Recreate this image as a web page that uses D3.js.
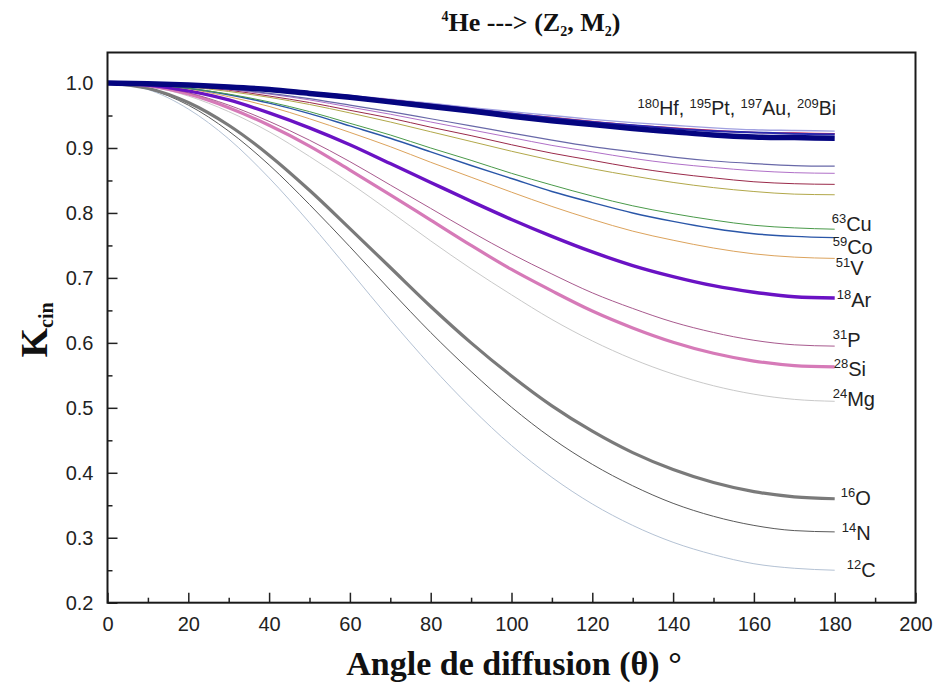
<!DOCTYPE html>
<html>
<head>
<meta charset="utf-8">
<script src="https://cdn.jsdelivr.net/npm/d3@7/dist/d3.min.js"></script>
<style>
  html, body { margin: 0; padding: 0; background: #fff; }
  svg { display: block; }
</style>
</head>
<body>
<svg id="chart" width="936" height="683"></svg>
<script>
// ---------------- DATA ----------------
const angles = [0, 10, 20, 30, 40, 50, 60, 70, 80, 90, 100, 110, 120, 130, 140, 150, 160, 170, 180];

const kC   = [1, 0.990, 0.960, 0.914, 0.854, 0.785, 0.711, 0.636, 0.565, 0.500, 0.442, 0.393, 0.352, 0.319, 0.293, 0.274, 0.260, 0.253, 0.250];
const kN   = [1, 0.991, 0.966, 0.926, 0.874, 0.813, 0.748, 0.681, 0.616, 0.556, 0.501, 0.453, 0.413, 0.380, 0.353, 0.333, 0.319, 0.311, 0.309];
const kO   = [1, 0.992, 0.970, 0.935, 0.889, 0.835, 0.776, 0.716, 0.656, 0.600, 0.549, 0.503, 0.464, 0.431, 0.405, 0.385, 0.371, 0.363, 0.360];
const kMg  = [1, 0.995, 0.980, 0.956, 0.925, 0.887, 0.846, 0.802, 0.757, 0.714, 0.674, 0.636, 0.603, 0.575, 0.552, 0.534, 0.521, 0.513, 0.510];
const kSi  = [1, 0.996, 0.983, 0.962, 0.935, 0.903, 0.866, 0.828, 0.789, 0.750, 0.713, 0.680, 0.649, 0.623, 0.601, 0.584, 0.572, 0.565, 0.563];
const kP   = [1, 0.996, 0.985, 0.966, 0.941, 0.912, 0.879, 0.843, 0.807, 0.771, 0.737, 0.706, 0.677, 0.653, 0.632, 0.616, 0.604, 0.597, 0.595];
const kAr  = [1, 0.997, 0.988, 0.974, 0.954, 0.931, 0.905, 0.876, 0.847, 0.818, 0.790, 0.764, 0.740, 0.719, 0.702, 0.688, 0.678, 0.671, 0.669];
const kV   = [1, 0.998, 0.991, 0.979, 0.964, 0.945, 0.924, 0.902, 0.878, 0.855, 0.832, 0.810, 0.790, 0.772, 0.758, 0.746, 0.737, 0.732, 0.730];
const kCo  = [1, 0.998, 0.992, 0.982, 0.969, 0.953, 0.934, 0.915, 0.894, 0.873, 0.853, 0.833, 0.816, 0.800, 0.787, 0.776, 0.768, 0.764, 0.762];
const kCu  = [1, 0.998, 0.992, 0.983, 0.971, 0.956, 0.938, 0.920, 0.900, 0.881, 0.861, 0.843, 0.826, 0.811, 0.799, 0.789, 0.781, 0.777, 0.775];
const kU1  = [1, 0.999, 0.994, 0.987, 0.978, 0.967, 0.954, 0.940, 0.925, 0.910, 0.895, 0.881, 0.868, 0.857, 0.847, 0.839, 0.833, 0.829, 0.828];
const kU2  = [1, 0.999, 0.995, 0.989, 0.980, 0.970, 0.958, 0.946, 0.932, 0.919, 0.905, 0.892, 0.881, 0.870, 0.861, 0.854, 0.848, 0.845, 0.844];
const kU3  = [1, 0.999, 0.996, 0.990, 0.983, 0.974, 0.963, 0.952, 0.940, 0.928, 0.916, 0.904, 0.894, 0.884, 0.876, 0.870, 0.865, 0.862, 0.861];
const kU4  = [1, 0.999, 0.996, 0.991, 0.984, 0.976, 0.966, 0.956, 0.945, 0.934, 0.923, 0.912, 0.902, 0.894, 0.886, 0.880, 0.876, 0.873, 0.872];
const kHf  = [1, 0.999, 0.997, 0.994, 0.990, 0.984, 0.978, 0.971, 0.964, 0.957, 0.949, 0.942, 0.936, 0.930, 0.925, 0.920, 0.917, 0.916, 0.915];
const kPt  = [1, 0.999, 0.998, 0.995, 0.990, 0.985, 0.980, 0.973, 0.967, 0.960, 0.953, 0.946, 0.940, 0.935, 0.930, 0.926, 0.924, 0.922, 0.921];
const kAu  = [1, 0.999, 0.998, 0.995, 0.991, 0.986, 0.980, 0.974, 0.967, 0.960, 0.953, 0.947, 0.941, 0.935, 0.931, 0.927, 0.924, 0.923, 0.922];
const kBi  = [1, 0.999, 0.998, 0.995, 0.991, 0.986, 0.981, 0.975, 0.969, 0.962, 0.956, 0.950, 0.944, 0.939, 0.935, 0.931, 0.928, 0.927, 0.926];

const seriesKeys   = ["C", "N", "O", "Mg", "Si", "P", "Ar", "V", "Co", "Cu", "U1", "U2", "U3", "U4", "Bi", "Au", "Pt", "Hf"];
const seriesValues = [kC, kN, kO, kMg, kSi, kP, kAr, kV, kCo, kCu, kU1, kU2, kU3, kU4, kBi, kAu, kPt, kHf];

const labelNames  = ["Cu", "Co", "V", "Ar", "P", "Si", "Mg", "O", "N", "C"];
const labelMasses = ["63", "59", "51", "18", "31", "28", "24", "16", "14", "12"];
const heavyNames  = ["Hf", "Pt", "Au", "Bi"];
const heavyMasses = ["180", "195", "197", "209"];

const xTicks = [0, 20, 40, 60, 80, 100, 120, 140, 160, 180, 200];
const xMinor = [10, 30, 50, 70, 90, 110, 130, 150, 170, 190];
const yTicks = [0.2, 0.3, 0.4, 0.5, 0.6, 0.7, 0.8, 0.9, 1.0];
const yMinor = [0.25, 0.35, 0.45, 0.55, 0.65, 0.75, 0.85, 0.95];

// ---------------- STYLES ----------------
const style = {
  C:  { color: "#b4c2d4", width: 1.0 },
  N:  { color: "#5a5a5a", width: 1.0 },
  O:  { color: "#7a7a7a", width: 3.2 },
  Mg: { color: "#c9c9c9", width: 1.0 },
  Si: { color: "#d67ab8", width: 3.2 },
  P:  { color: "#a85a8e", width: 1.0 },
  Ar: { color: "#6a12c4", width: 3.4 },
  V:  { color: "#dca35c", width: 1.0 },
  Co: { color: "#2a56a8", width: 1.4 },
  Cu: { color: "#4a9a4a", width: 1.0 },
  U1: { color: "#b2a84a", width: 1.0 },
  U2: { color: "#9a2a4a", width: 1.0 },
  U3: { color: "#b070c8", width: 1.0 },
  U4: { color: "#6868a8", width: 1.2 },
  Bi: { color: "#a0a0e0", width: 1.4 },
  Au: { color: "#e0204a", width: 1.4 },
  Pt: { color: "#2a2ab0", width: 2.0 },
  Hf: { color: "#050580", width: 5.5 }
};
// label offsets (px) relative to series end point
const labelOffset = {
  Cu: [-3, 2], Co: [-2, 16], V: [1, 17], Ar: [2, 9], P: [-2, 1],
  Si: [-1, 9], Mg: [-2, 5], O: [6, 6], N: [7, 8], C: [12, 7]
};

// ---------------- CHART ----------------
const svg = d3.select("#chart");
const W = 936, H = 683;
const pL = 107.5, pR = 915.5, pT = 52.5, pB = 602.7;
const x = d3.scaleLinear().domain([0, 200]).range([pL, pR]);
const y = d3.scaleLinear().domain([0.2, 1.047]).range([pB, pT]);

svg.append("rect").attr("width", W).attr("height", H).attr("fill", "#fff");

// axes
const axisFont = "'Liberation Sans', Arial, sans-serif";
const gx = svg.append("g").attr("transform", `translate(0,${pB})`)
  .call(d3.axisBottom(x).tickValues(xTicks).tickSize(-10).tickPadding(14).tickFormat(d3.format("d")));
const gxm = svg.append("g").attr("transform", `translate(0,${pB})`)
  .call(d3.axisBottom(x).tickValues(xMinor).tickSize(-5).tickFormat(""));
const gy = svg.append("g").attr("transform", `translate(${pL},0)`)
  .call(d3.axisLeft(y).tickValues(yTicks).tickSize(-10).tickPadding(14).tickFormat(d3.format(".1f")));
const gym = svg.append("g").attr("transform", `translate(${pL},0)`)
  .call(d3.axisLeft(y).tickValues(yMinor).tickSize(-5).tickFormat(""));

[gx, gxm, gy, gym].forEach(g => {
  g.select(".domain").remove();
  g.selectAll("line").attr("stroke", "#222").attr("stroke-width", 1.5);
  g.selectAll("text").attr("fill", "#222").style("font-family", axisFont).style("font-size", "20px");
});

// curves
const line = d3.line()
  .x((d, i) => x(angles[i]))
  .y(d => y(d))
  .curve(d3.curveMonotoneX);

const gl = svg.append("g");
seriesKeys.forEach((k, i) => {
  gl.append("path")
    .datum(seriesValues[i])
    .attr("d", line)
    .attr("fill", "none")
    .attr("stroke", style[k].color)
    .attr("stroke-width", style[k].width)
    .attr("stroke-linejoin", "round")
    .attr("stroke-linecap", "butt");
});

// frame
svg.append("rect")
  .attr("x", pL).attr("y", pT)
  .attr("width", pR - pL).attr("height", pB - pT)
  .attr("fill", "none").attr("stroke", "#1a1a1a").attr("stroke-width", 2);

// series labels
const labFont = "'Liberation Sans', Arial, sans-serif";
labelNames.forEach((n, i) => {
  const vals = seriesValues[seriesKeys.indexOf(n)];
  const last = vals[vals.length - 1];
  const off = labelOffset[n];
  const t = svg.append("text")
    .attr("x", x(angles[angles.length - 1]) + off[0])
    .attr("y", y(last) + off[1])
    .attr("fill", "#222")
    .style("font-family", labFont);
  t.append("tspan").text(labelMasses[i]).style("font-size", "13px").attr("dy", -8);
  t.append("tspan").text(n).style("font-size", "20px").attr("dy", 8);
});

// heavy-element label
const ht = svg.append("text")
  .attr("x", x(131.2))
  .attr("y", y(kBi[kBi.length - 1]) - 16)
  .attr("fill", "#222")
  .style("font-family", labFont);
heavyNames.forEach((n, i) => {
  ht.append("tspan").text(heavyMasses[i]).style("font-size", "13px").attr("dy", -7);
  ht.append("tspan").text(n + (i < heavyNames.length - 1 ? ", " : "")).style("font-size", "19.5px").attr("dy", 7);
});

// title
const serif = "'Liberation Serif', 'Times New Roman', serif";
const title = svg.append("text")
  .attr("x", 531).attr("y", 31)
  .attr("text-anchor", "middle")
  .attr("fill", "#111")
  .style("font-family", serif).style("font-weight", "bold");
title.append("tspan").text("4").style("font-size", "14px").attr("dy", -10);
title.append("tspan").text("He ---> (Z").style("font-size", "26px").attr("dy", 10);
title.append("tspan").text("2").style("font-size", "14px").attr("dy", 5);
title.append("tspan").text(", M").style("font-size", "26px").attr("dy", -5);
title.append("tspan").text("2").style("font-size", "14px").attr("dy", 5);
title.append("tspan").text(")").style("font-size", "26px").attr("dy", -5);

// x-axis title
svg.append("text")
  .attr("x", 514).attr("y", 675)
  .attr("text-anchor", "middle")
  .attr("fill", "#111")
  .style("font-family", serif).style("font-weight", "bold").style("font-size", "34px")
  .text("Angle de diffusion (θ) °");

// y-axis title
const yt = svg.append("text")
  .attr("transform", "translate(47,330) rotate(-90)")
  .attr("text-anchor", "middle")
  .attr("fill", "#111")
  .style("font-family", serif).style("font-weight", "bold");
yt.append("tspan").text("K").style("font-size", "38px");
yt.append("tspan").text("cin").style("font-size", "20px").attr("dy", 6);
</script>
</body>
</html>
